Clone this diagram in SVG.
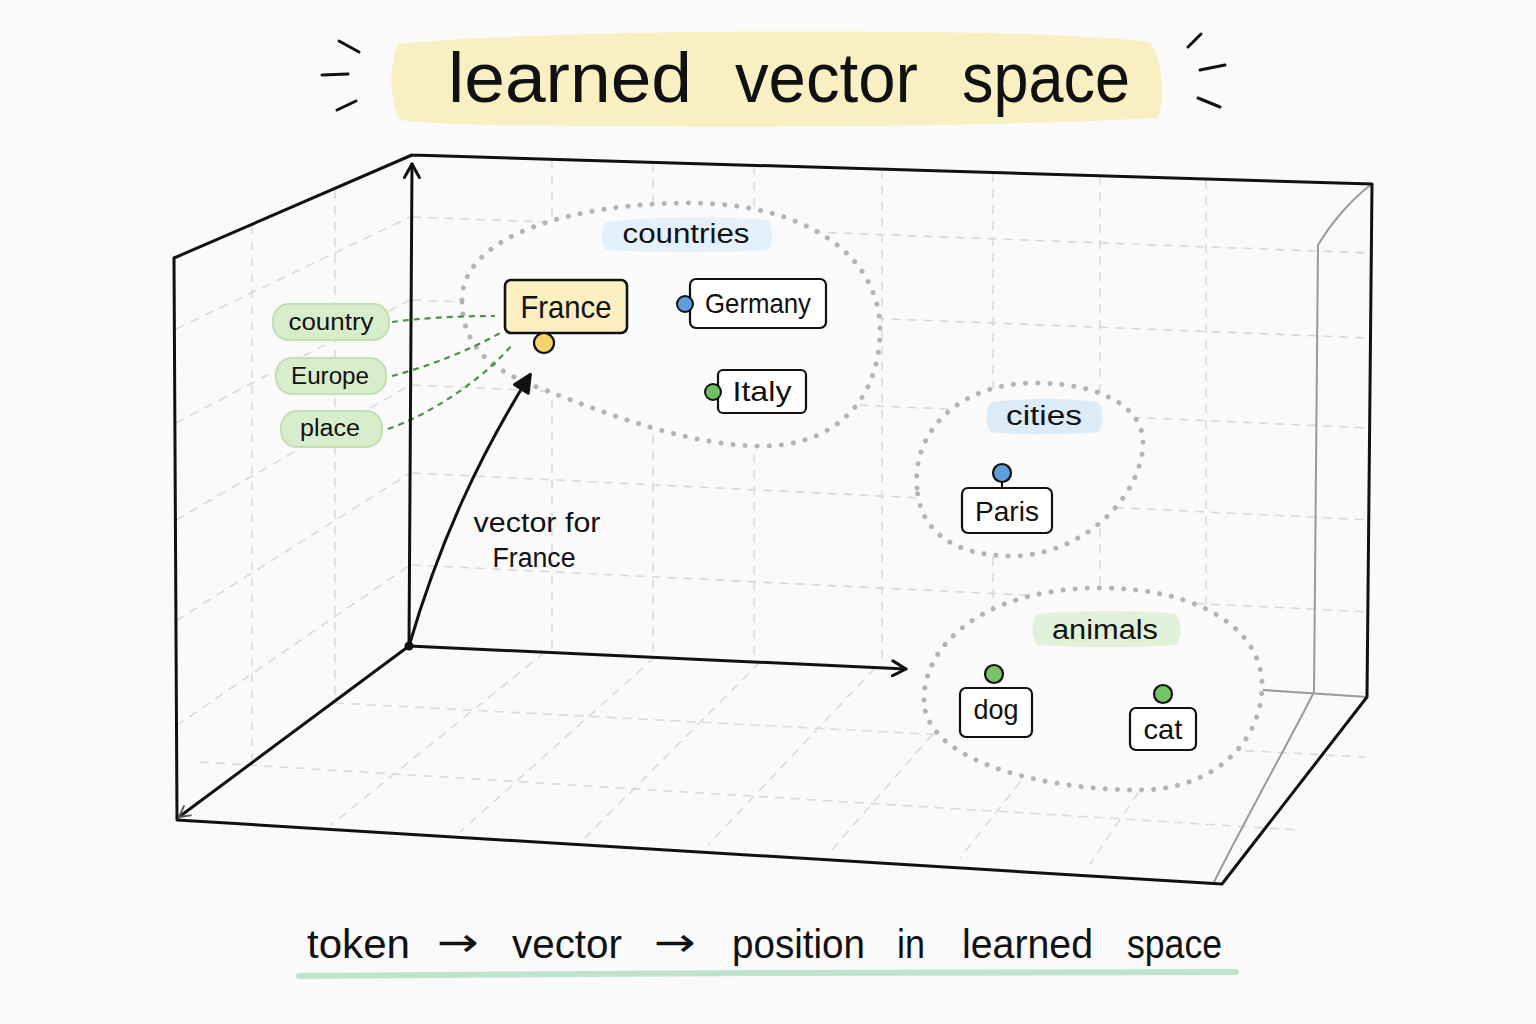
<svg xmlns="http://www.w3.org/2000/svg" width="1536" height="1024" viewBox="0 0 1536 1024">
<defs>
<style>
.t{font-family:"Liberation Sans","DejaVu Sans",sans-serif;fill:#111;}
.ar{font-family:"DejaVu Sans",sans-serif;fill:#111;}
.grid{stroke:#d9d9d9;stroke-width:1.5;stroke-dasharray:9 7;fill:none;}
.edge{stroke:#111;stroke-width:3;fill:none;stroke-linecap:round;stroke-linejoin:round;}
.inner{stroke:#9a9a9a;stroke-width:2;fill:none;}
.blob{fill:#fbfbfb;stroke:#b4b4b4;stroke-width:5;stroke-dasharray:0.1 12;stroke-linecap:round;}
.box{fill:#fff;stroke:#111;stroke-width:2.2;}
.pill{fill:#d8edcb;stroke:#c2e0b0;stroke-width:2;}
.conn{stroke:#4f8f4a;stroke-width:2.2;stroke-dasharray:6 5;fill:none;}
.spark{stroke:#111;stroke-width:3;stroke-linecap:round;}
</style>
<marker id="chev" viewBox="0 0 12 12" refX="10" refY="6" markerWidth="18" markerHeight="18" markerUnits="userSpaceOnUse" orient="auto">
<path d="M1,1 L10,6 L1,11" fill="none" stroke="#111" stroke-width="2" stroke-linecap="round" stroke-linejoin="round"/>
</marker>
<marker id="chevs" viewBox="0 0 12 12" refX="10" refY="6" markerWidth="14" markerHeight="14" markerUnits="userSpaceOnUse" orient="auto">
<path d="M1,1 L10,6 L1,11" fill="none" stroke="#555" stroke-width="1.6" stroke-linecap="round"/>
</marker>
<marker id="tri" viewBox="0 0 12 12" refX="10" refY="6" markerWidth="22" markerHeight="22" markerUnits="userSpaceOnUse" orient="auto">
<path d="M1,1.5 L10.5,6 L1,10.5 Z" fill="#111" stroke="#111" stroke-width="1.5" stroke-linejoin="round"/>
</marker>
</defs>
<rect width="1536" height="1024" fill="#fafafa"/>

<!-- title -->
<g id="title">
<path d="M398,44 C500,34 700,30 900,32 C1000,32 1100,36 1150,42 C1162,60 1166,95 1158,118 C1000,126 800,128 600,126 C500,126 430,124 400,120 C390,100 388,70 398,44 Z" fill="#f8efc2"/>
<line class="spark" x1="339" y1="41" x2="359" y2="52"/>
<line class="spark" x1="322" y1="75" x2="348" y2="74"/>
<line class="spark" x1="337" y1="110" x2="356" y2="101"/>
<line class="spark" x1="1188" y1="47" x2="1201" y2="34"/>
<line class="spark" x1="1200" y1="70" x2="1225" y2="65"/>
<line class="spark" x1="1198" y1="98" x2="1220" y2="107"/>
<text class="t" y="102" font-size="70"><tspan x="448" textLength="244" lengthAdjust="spacingAndGlyphs">learned</tspan><tspan x="735" textLength="183" lengthAdjust="spacingAndGlyphs">vector</tspan><tspan x="962" textLength="168" lengthAdjust="spacingAndGlyphs">space</tspan></text>
</g>

<!-- grid -->
<g id="grid">
<path class="grid" d="M552,160 V652 M653,163 V657 M754,166 V662 M882,170 V668 M993,173 V676 M1100,176 V683 M1206,180 V689"/>
<path class="grid" d="M412,217 L1370,253 M412,300 L1370,338 M412,385 L1370,428 M412,473 L1370,520 M412,565 L1370,612"/>
<path class="grid" d="M252,225 V762 M335,190 V700"/>
<path class="grid" d="M176,329 L410,217 M176,423 L410,300 M176,520 L410,385 M176,621 L410,473 M176,726 L410,565"/>
<path class="grid" d="M335,703 L1365,757 M200,762 L1300,830"/>
<path class="grid" d="M545,652 L330,826 M655,657 L460,832 M760,662 L585,838 M875,668 L708,845 M985,674 L830,852 M1100,681 L960,858 M1210,687 L1090,864"/>
</g>

<!-- box frame -->
<g id="frame">
<path class="inner" d="M1372,184 C1350,200 1330,225 1318,245 L1314,692 C1290,740 1250,810 1213,884"/>
<path class="inner" d="M1263,690 L1367,697"/>
<path class="edge" d="M412,155 L1372,184 L1367,697 L1222,884 L177,820 L174,258 L412,155"/>
</g>

<!-- clusters -->
<g id="countries">
<path class="blob" d="M462,300 C462,235 575,203 690,203 C805,203 880,255 880,330 C880,400 835,446 762,446 C690,446 610,415 545,390 C495,372 462,350 462,300 Z"/>
<path d="M606,222 C650,216 720,216 768,220 C774,228 774,242 768,250 C720,253 650,253 606,250 C600,242 600,228 606,222 Z" fill="#e4f0fa"/>
<text class="t" x="686" y="243" font-size="27" text-anchor="middle" textLength="127" lengthAdjust="spacingAndGlyphs">countries</text>
</g>
<g id="cities">
<path class="blob" d="M917,488 C912,430 960,383 1035,383 C1105,383 1145,410 1143,445 C1140,500 1080,556 1012,556 C952,556 920,530 917,488 Z"/>
<path d="M991,402 C1030,398 1070,398 1098,402 C1104,410 1104,425 1098,432 C1060,435 1020,435 991,432 C985,425 985,410 991,402 Z" fill="#dcebf8"/>
<text class="t" x="1044" y="425" font-size="27" text-anchor="middle" textLength="76" lengthAdjust="spacingAndGlyphs">cities</text>
</g>
<g id="animals">
<path class="blob" d="M924,700 C924,640 990,588 1100,588 C1200,588 1262,630 1262,685 C1262,745 1210,790 1140,790 C1040,790 924,760 924,700 Z"/>
<path d="M1037,614 C1080,610 1140,610 1176,614 C1182,622 1182,638 1176,645 C1140,648 1080,648 1037,645 C1031,638 1031,622 1037,614 Z" fill="#e2f1d9"/>
<text class="t" x="1105" y="639" font-size="27" text-anchor="middle" textLength="106" lengthAdjust="spacingAndGlyphs">animals</text>
</g>

<!-- connectors -->
<g id="connectors">
<path class="conn" d="M392,322 C420,318 460,316 495,316"/>
<path class="conn" d="M392,376 C430,366 470,350 500,333"/>
<path class="conn" d="M388,429 C430,414 480,382 512,345"/>
<line class="edge" x1="409" y1="646" x2="412" y2="164" stroke-width="3" marker-end="url(#chev)"/>
<line class="edge" x1="409" y1="646" x2="906" y2="669" marker-end="url(#chev)"/>
<line class="edge" x1="409" y1="646" x2="179" y2="817" stroke-width="2.5" marker-end="url(#chevs)"/>
<path class="edge" d="M409,646 C440,540 480,455 530,375" stroke-width="3.5" marker-end="url(#tri)"/>
<circle cx="409" cy="646" r="4.5" fill="#111"/>
<line x1="1002" y1="482" x2="1002" y2="488" stroke="#111" stroke-width="2"/>
</g>

<!-- nodes -->
<g id="node-country">
<rect class="pill" x="273" y="304" width="116" height="36" rx="16"/>
<text class="t" x="331" y="330" font-size="23" text-anchor="middle" textLength="85" lengthAdjust="spacingAndGlyphs">country</text>
</g>
<g id="node-europe">
<rect class="pill" x="276" y="358" width="110" height="36" rx="16"/>
<text class="t" x="330" y="384" font-size="23" text-anchor="middle" textLength="78" lengthAdjust="spacingAndGlyphs">Europe</text>
</g>
<g id="node-place">
<rect class="pill" x="281" y="411" width="101" height="36" rx="16"/>
<text class="t" x="330" y="436" font-size="23" text-anchor="middle" textLength="60" lengthAdjust="spacingAndGlyphs">place</text>
</g>
<g id="node-france">
<rect x="505" y="280" width="122" height="53" rx="6" fill="#fcefc2" stroke="#111" stroke-width="2.6"/>
<text class="t" x="566" y="318" font-size="32" text-anchor="middle" textLength="91" lengthAdjust="spacingAndGlyphs">France</text>
<circle cx="544" cy="343" r="10" fill="#f6d46c" stroke="#111" stroke-width="2.2"/>
</g>
<g id="node-germany">
<rect class="box" x="690" y="279" width="136" height="49" rx="6"/>
<text class="t" x="758" y="313" font-size="28" text-anchor="middle" textLength="106" lengthAdjust="spacingAndGlyphs">Germany</text>
<circle cx="685" cy="304" r="8" fill="#5d9fdc" stroke="#111" stroke-width="2"/>
</g>
<g id="node-italy">
<rect class="box" x="718" y="370" width="88" height="43" rx="5"/>
<text class="t" x="762" y="401" font-size="28" text-anchor="middle" textLength="59" lengthAdjust="spacingAndGlyphs">Italy</text>
<circle cx="713" cy="392" r="8" fill="#6fc062" stroke="#111" stroke-width="2"/>
</g>
<g id="node-paris">
<rect class="box" x="962" y="488" width="90" height="45" rx="6"/>
<text class="t" x="1007" y="521" font-size="28" text-anchor="middle" textLength="64" lengthAdjust="spacingAndGlyphs">Paris</text>
<circle cx="1002" cy="473" r="9" fill="#5d9fdc" stroke="#111" stroke-width="2.2"/>
</g>
<g id="node-dog">
<rect class="box" x="960" y="688" width="72" height="49" rx="6"/>
<text class="t" x="996" y="719" font-size="28" text-anchor="middle" textLength="45" lengthAdjust="spacingAndGlyphs">dog</text>
<circle cx="994" cy="674" r="9" fill="#76c465" stroke="#111" stroke-width="2.2"/>
</g>
<g id="node-cat">
<rect class="box" x="1130" y="708" width="66" height="42" rx="6"/>
<text class="t" x="1163" y="739" font-size="28" text-anchor="middle" textLength="39" lengthAdjust="spacingAndGlyphs">cat</text>
<circle cx="1163" cy="694" r="9" fill="#76c465" stroke="#111" stroke-width="2.2"/>
</g>
<g id="label-vector">
<text class="t" x="537" y="532" font-size="27" text-anchor="middle" textLength="127" lengthAdjust="spacingAndGlyphs">vector for</text>
<text class="t" x="534" y="567" font-size="27" text-anchor="middle" textLength="83" lengthAdjust="spacingAndGlyphs">France</text>
</g>

<!-- footer -->
<g id="footer">
<path d="M299,976 C600,973 950,972 1236,972" stroke="#bfe4cd" stroke-width="6" stroke-linecap="round" fill="none"/>
<text class="t" y="958" font-size="40"><tspan x="307" textLength="103" lengthAdjust="spacingAndGlyphs">token</tspan><tspan class="ar" x="437" y="956" font-size="40" textLength="42" lengthAdjust="spacingAndGlyphs">→</tspan><tspan x="512" y="958" textLength="110" lengthAdjust="spacingAndGlyphs">vector</tspan><tspan class="ar" x="654" y="956" font-size="40" textLength="42" lengthAdjust="spacingAndGlyphs">→</tspan><tspan x="732" y="958" textLength="133" lengthAdjust="spacingAndGlyphs">position</tspan><tspan x="897" textLength="28" lengthAdjust="spacingAndGlyphs">in</tspan><tspan x="962" textLength="131" lengthAdjust="spacingAndGlyphs">learned</tspan><tspan x="1127" textLength="95" lengthAdjust="spacingAndGlyphs">space</tspan></text>
</g>
</svg>
